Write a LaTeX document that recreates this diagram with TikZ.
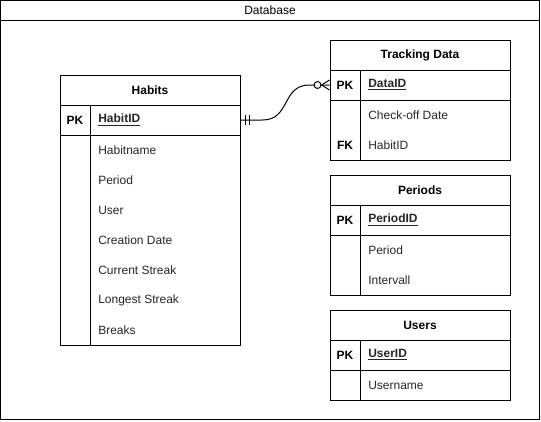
\documentclass[tikz,border=0pt]{standalone}
\usepackage{fontspec}
\setmainfont{Liberation Sans}
\usetikzlibrary{calc}

\tikzset{
  frame/.style={draw=black, line width=0.75pt},
  headbox/.style={frame, minimum width=135pt, minimum height=22.5pt, inner sep=0pt, font=\fontsize{9}{11}\selectfont\bfseries},
  rowbox/.style={frame, minimum width=135pt, minimum height=22.5pt, inner sep=0pt},
  keytext/.style={inner sep=0pt, font=\fontsize{9}{11}\selectfont\bfseries},
  fieldtext/.style={anchor=west, inner sep=0pt, text=black!85, font=\fontsize{9}{11}\selectfont},
  relation/.style={draw=black, line width=0.75pt}
}

\begin{document}
\begin{tikzpicture}[x=0.75pt, y=-0.75pt]
			\useasboundingbox (0,0) rectangle (541,421);
			% outer container
			\draw[frame] (0.5,0.5) rectangle (539.5,419.5);
			\draw[frame] (0.5,20) -- (539.5,20);
			\node[inner sep=0pt, font=\fontsize{9}{11}\selectfont] (dbtitle) at (270,10.5) {Database};
			
			% Habits
			\node[headbox] (habits) at (150,90) {Habits};
			\node[rowbox] (habitsPK) at (150,120) {};
			\node[rowbox, minimum height=157.5pt] (habitsBody) at (150,240) {};
			\draw[frame] (90,105) -- (90,345);
			\node[keytext] (habitsKey) at (75,120) {PK};
			\node[fieldtext, font=\fontsize{9}{11}\selectfont\bfseries] (habitsID) at (98,120) {\underline{HabitID}};
			\foreach \name [count=\i] in {Habitname,Period,User,Creation Date,Current Streak,Longest Streak,Breaks} {
				\node[fieldtext] (habitsF\i) at (98,120+30*\i) {\name};
			}
			
			% Tracking Data
			\node[headbox] (data) at (420,55) {Tracking Data};
			\node[rowbox] (dataPK) at (420,85) {};
			\node[rowbox, minimum height=45pt] (dataBody) at (420,130) {};
			\draw[frame] (360,70) -- (360,160);
			\node[keytext] (dataKey) at (345,85) {PK};
			\node[fieldtext, font=\fontsize{9}{11}\selectfont\bfseries] (dataID) at (368,85) {\underline{DataID}};
			\node[fieldtext] (dataF1) at (368,115) {Check-off Date};
			\node[keytext] (dataFK) at (345,145) {FK};
			\node[fieldtext] (dataF2) at (368,145) {HabitID};
			
			% Periods
			\node[headbox] (periods) at (420,190) {Periods};
			\node[rowbox] (periodsPK) at (420,220) {};
			\node[rowbox, minimum height=45pt] (periodsBody) at (420,265) {};
			\draw[frame] (360,205) -- (360,295);
			\node[keytext] (periodsKey) at (345,220) {PK};
			\node[fieldtext, font=\fontsize{9}{11}\selectfont\bfseries] (periodsID) at (368,220) {\underline{PeriodID}};
			\node[fieldtext] (periodsF1) at (368,250) {Period};
			\node[fieldtext] (periodsF2) at (368,280) {Intervall};
			
			% Users
			\node[headbox] (users) at (420,325) {Users};
			\node[rowbox] (usersPK) at (420,355) {};
			\node[rowbox] (usersBody) at (420,385) {};
			\draw[frame] (360,340) -- (360,400);
			\node[keytext] (usersKey) at (345,355) {PK};
			\node[fieldtext, font=\fontsize{9}{11}\selectfont\bfseries] (usersID) at (368,355) {\underline{UserID}};
			\node[fieldtext] (usersF1) at (368,385) {Username};
			
			% relation Habits -- Tracking Data
			\draw[relation] (habitsPK.east) -- ++(22,0) .. controls +(28,0) and +(-28,0) .. ($(dataPK.west)+(-20,0)$) -- (dataPK.west);
			\draw[relation] ($(habitsPK.east)+(5,-5)$) -- ++(0,10);
			\draw[relation] ($(habitsPK.east)+(8.5,-5)$) -- ++(0,10);
			\draw[relation] ($(dataPK.west)+(-8,0)$) -- ($(dataPK.west)+(0,-5)$);
			\draw[relation] ($(dataPK.west)+(-8,0)$) -- ($(dataPK.west)+(0,5)$);
			\draw[relation, fill=white] ($(dataPK.west)+(-12,0)$) circle (2.6pt);
		\end{tikzpicture}
\end{document}
